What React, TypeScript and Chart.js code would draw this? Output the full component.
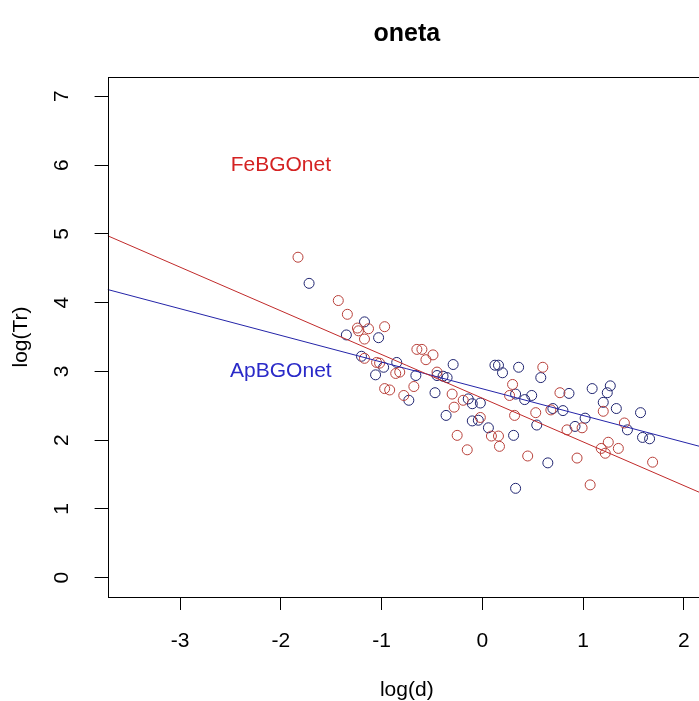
import React, { useEffect, useRef } from "react";
import { Chart, registerables } from "chart.js";

Chart.register(...registerables);

const TITLE = "oneta";
const X_LABEL = "log(d)";
const Y_LABEL = "log(Tr)";
const X_TICKS = [-3, -2, -1, 0, 1, 2];
const Y_TICKS = [0, 1, 2, 3, 4, 5, 6, 7];
const X_RANGE = [-3.72, 2.22];
const Y_RANGE = [-0.28, 7.28];

// FeBGOnet observations
const feX = [-1.83, -1.43, -1.34, -1.24, -1.23, -1.13, -0.97, -1.17, -0.65, -0.6, -0.49, -0.56, -1.17, -1.05, -1.02, -0.86, -0.82, -0.97, -0.92, -0.68, -0.78, -0.45, -0.3, -0.19, -0.28, -0.02, -0.25, -0.15, 0.09, 0.16, 0.17, 0.3, 0.27, 0.32, 0.45, 0.53, 0.6, 0.68, 0.77, 0.84, 0.99, 0.94, 1.07, 1.2, 1.25, 1.18, 1.22, 1.35, 1.41, 1.69];
const feY = [4.66, 4.03, 3.83, 3.63, 3.59, 3.62, 3.65, 3.47, 3.32, 3.32, 3.24, 3.17, 3.19, 3.13, 3.12, 2.97, 2.99, 2.75, 2.73, 2.78, 2.65, 2.99, 2.67, 2.58, 2.48, 2.33, 2.07, 1.86, 2.06, 2.06, 1.91, 2.81, 2.65, 2.36, 1.77, 2.4, 3.06, 2.44, 2.69, 2.15, 2.18, 1.74, 1.35, 2.42, 1.97, 1.88, 1.81, 1.88, 2.25, 1.68];

// ApBGOnet observations
const apX = [-1.72, -1.17, -1.35, -1.03, -1.2, -0.85, -0.98, -1.06, -0.66, -0.73, -0.29, 0.125, 0.16, 0.2, 0.36, -0.45, -0.39, -0.35, -0.47, -0.14, -0.1, -0.02, -0.36, -0.1, -0.04, 0.06, 0.31, 0.33, 0.58, 0.33, 0.42, 0.49, 0.54, 0.65, 0.7, 0.8, 0.86, 0.92, 1.02, 1.09, 1.27, 1.24, 1.2, 1.33, 1.57, 1.44, 1.59, 1.66];
const apY = [4.28, 3.72, 3.53, 3.49, 3.22, 3.13, 3.06, 2.95, 2.94, 2.58, 3.1, 3.09, 3.09, 2.98, 3.06, 2.94, 2.93, 2.91, 2.69, 2.6, 2.53, 2.54, 2.36, 2.28, 2.29, 2.18, 2.07, 1.3, 2.91, 2.67, 2.59, 2.65, 2.22, 1.67, 2.46, 2.43, 2.68, 2.2, 2.32, 2.75, 2.79, 2.69, 2.55, 2.46, 2.4, 2.15, 2.04, 2.02];

// fitted regression lines (abline)
const FE_INTERCEPT = 2.61;
const FE_SLOPE = -0.635;
const AP_INTERCEPT = 2.747;
const AP_SLOPE = -0.388;

// text annotations in data coordinates
const ANNOT_TEXT = ["FeBGOnet", "ApBGOnet"];
const ANNOT_X = [-2, -2];
const ANNOT_Y = [6, 3];

const FONT = "'Liberation Sans', Arial, Helvetica, sans-serif";
const RED_PT = "#b8403a";
const BLUE_PT = "#1f2470";
const RED_LINE = "#c02a2a";
const BLUE_LINE = "#2424a8";
const ANNOT_COLORS = ["#d42222", "#2a2ac8"];

const zip = (xs: number[], ys: number[]) => xs.map((x, i) => ({ x, y: ys[i] }));
const abline = (a: number, b: number) => X_RANGE.map((x) => ({ x, y: a + b * x }));

const framePlugin = {
  id: "frame",
  afterDatasetsDraw(chart: any) {
    const { ctx, chartArea: a, scales } = chart;
    ctx.save();
    ctx.strokeStyle = "#000";
    ctx.lineWidth = 1;
    const l = Math.round(a.left) + 0.5;
    const t = Math.round(a.top) + 0.5;
    const r = Math.round(a.right) + 0.5;
    const b = Math.round(a.bottom) + 0.5;
    ctx.strokeRect(l, t, r - l, b - t);
    ctx.font = `21px ${FONT}`;
    ctx.textAlign = "center";
    ctx.textBaseline = "middle";
    ANNOT_TEXT.forEach((txt, i) => {
      ctx.fillStyle = ANNOT_COLORS[i];
      ctx.fillText(txt, scales.x.getPixelForValue(ANNOT_X[i]), scales.y.getPixelForValue(ANNOT_Y[i]));
    });
    ctx.restore();
  },
};

export default function App() {
  const ref = useRef<HTMLCanvasElement | null>(null);

  useEffect(() => {
    if (!ref.current) return;
    Chart.defaults.font.family = FONT;
    const chart = new Chart(ref.current, {
      type: "scatter",
      data: {
        datasets: [
          {
            type: "line",
            data: abline(FE_INTERCEPT, FE_SLOPE),
            borderColor: RED_LINE,
            borderWidth: 1,
            pointRadius: 0,
            fill: false,
          } as any,
          {
            type: "line",
            data: abline(AP_INTERCEPT, AP_SLOPE),
            borderColor: BLUE_LINE,
            borderWidth: 1,
            pointRadius: 0,
            fill: false,
          } as any,
          {
            data: zip(feX, feY),
            pointStyle: "circle",
            pointRadius: 5,
            borderWidth: 1,
            borderColor: RED_PT,
            backgroundColor: "rgba(0,0,0,0)",
          },
          {
            data: zip(apX, apY),
            pointStyle: "circle",
            pointRadius: 5,
            borderWidth: 1,
            borderColor: BLUE_PT,
            backgroundColor: "rgba(0,0,0,0)",
          },
        ],
      },
      options: {
        animation: false,
        responsive: false,
        devicePixelRatio: 1,
        layout: { padding: { top: 0, right: 14, bottom: 0, left: 0 } },
        plugins: {
          legend: { display: false },
          tooltip: { enabled: false },
          title: {
            display: true,
            text: TITLE,
            fullSize: false,
            color: "#000",
            font: { family: FONT, size: 25, weight: "bold", lineHeight: 1.2 },
            padding: { top: 19, bottom: 28 },
          },
        },
        scales: {
          x: {
            type: "linear",
            min: X_RANGE[0],
            max: X_RANGE[1],
            afterBuildTicks: (s: any) => {
              s.ticks = X_TICKS.map((v) => ({ value: v }));
            },
            afterFit: (s: any) => {
              s.height = 104;
            },
            grid: { drawOnChartArea: false, drawTicks: true, tickLength: 13, color: "#000", lineWidth: 1 },
            border: { display: false },
            ticks: {
              color: "#000",
              font: { family: FONT, size: 21 },
              padding: 19,
              autoSkip: false,
              maxRotation: 0,
              minRotation: 0,
              callback: (v: any) => String(v),
            },
            title: {
              display: true,
              text: X_LABEL,
              color: "#000",
              font: { family: FONT, size: 21, lineHeight: 1 },
              padding: { top: 0, bottom: 0 },
            },
          },
          y: {
            type: "linear",
            min: Y_RANGE[0],
            max: Y_RANGE[1],
            afterBuildTicks: (s: any) => {
              s.ticks = Y_TICKS.map((v) => ({ value: v }));
            },
            afterFit: (s: any) => {
              s.width = 107.6;
            },
            grid: { drawOnChartArea: false, drawTicks: true, tickLength: 13, color: "#000", lineWidth: 1 },
            border: { display: false },
            ticks: {
              color: "#000",
              font: { family: FONT, size: 21 },
              padding: 27,
              autoSkip: false,
              minRotation: 90,
              maxRotation: 90,
              crossAlign: "center",
              callback: (v: any) => String(v),
            },
            title: {
              display: true,
              text: Y_LABEL,
              color: "#000",
              font: { family: FONT, size: 21, lineHeight: 1 },
              padding: { top: 11, bottom: 0 },
            },
          },
        },
      },
      plugins: [framePlugin],
    } as any);
    return () => chart.destroy();
  }, []);

  return (
    <div
      style={{
        position: "fixed",
        left: 0,
        top: 0,
        width: 699,
        height: 701,
        overflow: "hidden",
        background: "#fff",
      }}
    >
      <canvas ref={ref} width={720} height={701} style={{ width: 720, height: 701, display: "block" }} />
    </div>
  );
}
